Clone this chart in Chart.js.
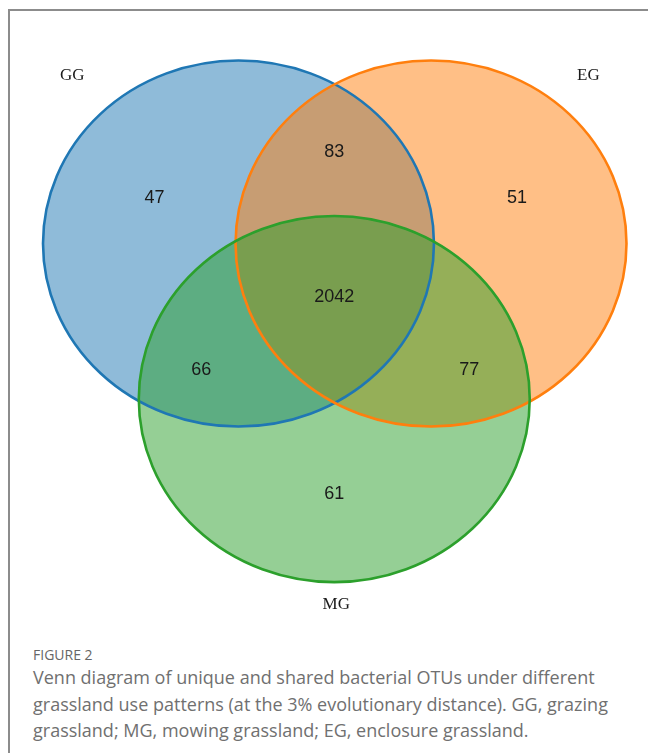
<!DOCTYPE html>
<html lang="en">
<head>
    <meta charset="UTF-8">
    <title>Venn diagram of bacterial OTUs</title>
    <script src="https://cdn.jsdelivr.net/npm/chart.js"></script>
    <style>
        body {
            margin: 0;
            background-color: white;
            width: 648px;
            height: 753px;
            overflow: hidden;
            position: relative;
        }
        .frame {
            position: absolute;
            left: 8px;
            top: 9px;
            width: 700px;
            height: 800px;
            border-left: 2px solid #8c8c8c;
            border-top: 2px solid #8c8c8c;
        }
        .chart-box {
            position: absolute;
            left: 0;
            top: 0;
            width: 648px;
            height: 620px;
        }
        .caption {
            position: absolute;
            left: 33px;
            top: 645px;
            width: 610px;
            font-family: "Open Sans", sans-serif;
            color: #707070;
        }
        .caption .fig {
            font-size: 14px;
            color: #666;
            margin-bottom: 0;
        }
        .caption .text {
            font-size: 18px;
            line-height: 26.5px;
        }
    </style>
</head>
<body>
    <div class="frame"></div>
    <div class="chart-box"><canvas id="venn"></canvas></div>
    <div class="caption">
        <div class="fig">FIGURE 2</div>
        <div class="text">Venn diagram of unique and shared bacterial OTUs under different grassland use patterns (at the 3% evolutionary distance). GG, grazing grassland; MG, mowing grassland; EG, enclosure grassland.</div>
    </div>

    <script>
        // sets (circle centres and radius in data units, radius = 100)
        const setNames = ['GG', 'EG', 'MG'];
        const setCenterX = [0, 98.5, 49];
        const setCenterY = [0, 0, -85];
        const setRadius = [100, 100, 100];
        const setNameX = [-85, 179, 50];
        const setNameY = [92, 92, -197];

        // region counts and where they sit
        const regionCounts = [47, 83, 51, 2042, 66, 77, 61];
        const regionX = [-43, 49, 142.5, 49, -19, 118, 49];
        const regionY = [25, 50, 25, -29, -69, -69, -137];

        const fillColors = ['rgba(31,119,180,0.5)', 'rgba(255,127,14,0.5)', 'rgba(44,160,44,0.5)'];
        const lineColors = ['#1f77b4', '#ff7f0e', '#2ca02c'];

        const vennPlugin = {
            id: 'venn',
            afterDatasetsDraw(chart) {
                const ctx = chart.ctx;
                const xs = chart.scales.x;
                const ys = chart.scales.y;
                const circles = chart.getDatasetMeta(0).data;

                const shapes = circles.map((pt, i) => ({
                    x: pt.x,
                    y: pt.y,
                    rx: Math.abs(xs.getPixelForValue(setCenterX[i] + setRadius[i]) - pt.x),
                    ry: Math.abs(ys.getPixelForValue(setCenterY[i] + setRadius[i]) - pt.y)
                }));

                ctx.save();
                // fills first, then outlines on top
                shapes.forEach((s, i) => {
                    ctx.beginPath();
                    ctx.ellipse(s.x, s.y, s.rx, s.ry, 0, 0, Math.PI * 2);
                    ctx.fillStyle = fillColors[i];
                    ctx.fill();
                });
                shapes.forEach((s, i) => {
                    ctx.beginPath();
                    ctx.ellipse(s.x, s.y, s.rx, s.ry, 0, 0, Math.PI * 2);
                    ctx.strokeStyle = lineColors[i];
                    ctx.lineWidth = 2.6;
                    ctx.stroke();
                });

                ctx.textAlign = 'center';
                ctx.textBaseline = 'middle';

                // region numbers
                ctx.fillStyle = '#1a1a1a';
                ctx.font = '18px "Liberation Sans", Arial, sans-serif';
                chart.getDatasetMeta(1).data.forEach((pt, i) => {
                    ctx.fillText(String(regionCounts[i]), pt.x, pt.y);
                });

                // set names
                ctx.font = '17px "Liberation Serif", "Times New Roman", serif';
                chart.getDatasetMeta(2).data.forEach((pt, i) => {
                    ctx.fillText(setNames[i], pt.x, pt.y);
                });
                ctx.restore();
            }
        };

        new Chart(document.getElementById('venn'), {
            type: 'scatter',
            data: {
                datasets: [{
                    label: 'Sets',
                    data: setCenterX.map((x, i) => ({ x: x, y: setCenterY[i] })),
                    pointRadius: 0
                },
                {
                    label: 'Regions',
                    data: regionX.map((x, i) => ({ x: x, y: regionY[i] })),
                    pointRadius: 0
                },
                {
                    label: 'Names',
                    data: setNameX.map((x, i) => ({ x: x, y: setNameY[i] })),
                    pointRadius: 0
                }]
            },
            options: {
                responsive: true,
                maintainAspectRatio: false,
                animation: false,
                events: [],
                layout: { padding: 0 },
                plugins: {
                    legend: { display: false },
                    tooltip: { enabled: false }
                },
                scales: {
                    x: { display: false, min: -122, max: 209.5 },
                    y: { display: false, min: -205.7, max: 133.06 }
                }
            },
            plugins: [vennPlugin]
        });
    </script>
</body>
</html>
